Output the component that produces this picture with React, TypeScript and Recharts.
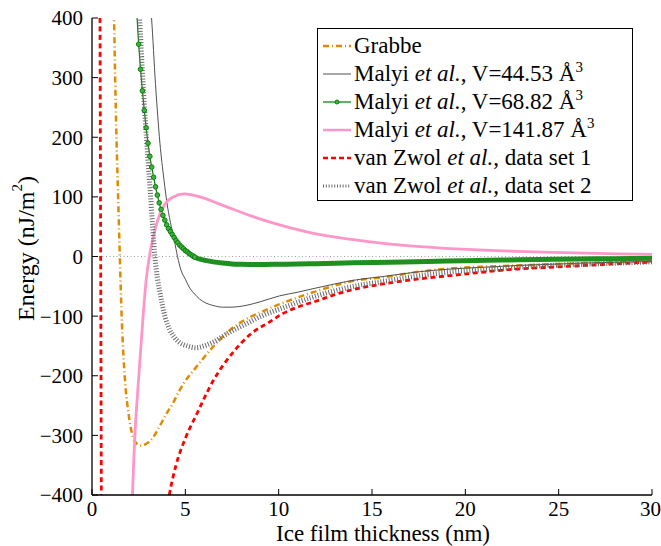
import React from 'react';
import { LineChart, Line, XAxis, YAxis, ReferenceLine, Legend, Label } from 'recharts';

// ---- data ----
const xTicks = [0, 5, 10, 15, 20, 25, 30];
const yTicks = [-400, -300, -200, -100, 0, 100, 200, 300, 400];

const grabbeX = [1.05, 1.18, 1.24, 1.31, 1.4, 1.49, 1.6, 1.7, 1.8, 1.95, 2.2, 2.4, 2.62, 2.85, 3.06, 3.3, 3.6, 4.0, 4.32, 4.68, 4.95, 5.57, 6.47, 7.37, 8.26, 9.0, 10.05, 11.84, 14.18, 15.6, 17.4, 19.2, 21, 22.8, 24.6, 26.4, 28.2, 30];
const grabbeY = [520, 400, 300, 200, 100, 0, -110, -175, -220, -262, -303, -314, -317, -315, -311, -302, -286, -263, -247, -225, -211, -186, -152, -124, -105, -94, -80, -60, -40, -35, -26, -20, -17, -15, -13, -11, -9.5, -8];

const malyi44X = [3.0, 3.19, 3.4, 3.64, 3.85, 4.05, 4.25, 4.41, 4.58, 4.77, 5.0, 5.2, 5.5, 5.75, 6.1, 6.47, 7.0, 7.4, 8.26, 9.0, 10.05, 11.0, 11.84, 13.0, 14.18, 15.6, 17.4, 19.2, 21, 22.8, 24.6, 26.4, 28.2, 30];
const malyi44Y = [470, 400, 290, 190, 130, 83, 50, 27, 0, -23, -38, -51, -63, -71, -78, -82, -85, -85, -82, -76, -66, -60, -54, -46, -39, -33.6, -26, -21, -18, -15, -13, -11, -9.5, -8.4];

const malyi68X = [2.4, 2.5, 2.6, 2.7, 2.8, 2.9, 3.0, 3.1, 3.2, 3.3, 3.4, 3.5, 3.6, 3.7, 3.8, 3.9, 4.0, 4.1, 4.2, 4.3, 4.4, 4.5, 4.6, 4.7, 4.8, 4.9, 5.0, 5.1, 5.2, 5.3, 5.4, 5.5];
const malyi68Y = [408, 356, 314, 278, 245, 216, 190, 168, 150, 133, 117, 103, 90, 79, 69, 61, 53, 47, 42, 37, 32, 27, 23, 19, 16, 13, 10, 8, 5, 3, 1, -1];
const malyi68TailX = [5.4, 5.5, 6, 6.5, 7, 7.5, 8, 9, 10, 11, 12, 14, 16, 18, 20, 22, 24, 26, 28, 30];
const malyi68TailY = [1, -1, -6, -9, -11, -12.5, -13, -13.5, -13, -12.5, -12, -10.5, -9.5, -8.5, -7, -6, -5, -4.3, -3.6, -3];

const malyi141X = [2.1, 2.17, 2.3, 2.49, 2.6, 2.75, 2.9, 3.1, 3.24, 3.51, 3.87, 4.32, 4.95, 5.84, 6.74, 7.63, 8.44, 10, 12, 13.8, 15.6, 17.4, 19.2, 21, 22.8, 24.6, 26.4, 28.2, 30];
const malyi141Y = [-480, -400, -300, -208, -160, -95, -40, 5, 27, 60, 86, 99.5, 105, 99.5, 89, 78.5, 69, 53.5, 38, 29, 22, 17, 13.3, 10.6, 8.5, 6.9, 5.6, 4.5, 3.6];

const zwol1X = [0.42, 0.465, 0.51, 1.0, 2.0, 3.0, 3.8, 4.14, 4.5, 5.0, 5.6, 6.5, 7.5, 8.5, 9.5, 10.2, 11, 12, 13, 14.2, 15.6, 17.4, 19.2, 21, 22.8, 24.6, 26.4, 28.2, 30];
const zwol1Y = [500, 0, -500, -2500, -1400, -750, -470, -400, -350, -305, -265, -208, -163, -130, -110, -96, -85, -75, -64, -54, -46, -38, -32, -26, -21, -18, -15, -12, -9.5];

const zwol2X = [2.5, 2.55, 2.7, 2.85, 3.0, 3.12, 3.25, 3.37, 3.5, 3.65, 3.92, 4.15, 4.4, 4.68, 5.1, 5.57, 6.0, 6.47, 7.37, 8.26, 9.0, 10.05, 11.84, 14.18, 15.6, 17.4, 19.2, 21, 22.8, 24.6, 26.4, 28.2, 30];
const zwol2Y = [430, 400, 310, 230, 160, 110, 50, 0, -35, -62, -102, -122, -135, -144, -150, -153, -150, -144, -127, -113, -101, -88, -68, -49, -42, -33, -26, -22, -18, -15, -13, -11, -9];

const toPoints = (xs: number[], ys: number[]) => xs.map((x, i) => ({ x, y: ys[i] }));

const grabbe = toPoints(grabbeX, grabbeY);
const malyi44 = toPoints(malyi44X, malyi44Y);
const malyi68 = toPoints(malyi68X, malyi68Y);
const malyi68Tail = toPoints(malyi68TailX, malyi68TailY);
const malyi141 = toPoints(malyi141X, malyi141Y);
const zwol1 = toPoints(zwol1X, zwol1Y);
const zwol2 = toPoints(zwol2X, zwol2Y);

const FONT = "'Liberation Serif', 'Times New Roman', Times, 'DejaVu Serif', 'Noto Serif', FreeSerif, serif";
const ORANGE = '#E08A00';
const GRAY = '#505050';
const GREEN = '#0A7D0A';
const PINK = '#FF96C8';
const RED = '#FF0000';
const HATCH = '#6a6a6a';

const fmtY = (v: number) => (v < 0 ? '\u2212' + Math.abs(v) : String(v));

const Sup = ({ children }: { children: React.ReactNode }) => (
  <span style={{ fontSize: 15, position: 'relative', top: -9 }}>{children}</span>
);

const sample = (kind: string) => {
  switch (kind) {
    case 'grabbe':
      return <line x1={2} y1={10} x2={30} y2={10} stroke={ORANGE} strokeWidth={2.5} strokeDasharray="6 3 1 3" />;
    case 'm44':
      return <line x1={2} y1={10} x2={30} y2={10} stroke={GRAY} strokeWidth={1} />;
    case 'm68':
      return (
        <g>
          <line x1={2} y1={10} x2={30} y2={10} stroke="#2a9a2a" strokeWidth={1.5} />
          <circle cx={16} cy={10} r={2} fill="#3cb43c" stroke={GREEN} strokeWidth={1} />
        </g>
      );
    case 'm141':
      return <line x1={2} y1={10} x2={30} y2={10} stroke={PINK} strokeWidth={2.5} />;
    case 'z1':
      return <line x1={2} y1={10} x2={30} y2={10} stroke={RED} strokeWidth={2.5} strokeDasharray="5 3" />;
    default:
      return <line x1={2} y1={10} x2={30} y2={10} stroke={HATCH} strokeWidth={3} strokeDasharray="1 1.8" />;
  }
};

const legendRows: { kind: string; label: React.ReactNode }[] = [
  { kind: 'grabbe', label: <>Grabbe</> },
  { kind: 'm44', label: <>Malyi <i>et al.</i>, V=44.53 Å<Sup>3</Sup></> },
  { kind: 'm68', label: <>Malyi <i>et al.</i>, V=68.82 Å<Sup>3</Sup></> },
  { kind: 'm141', label: <>Malyi <i>et al.</i>, V=141.87 Å<Sup>3</Sup></> },
  { kind: 'z1', label: <>van Zwol <i>et al.</i>, data set 1</> },
  { kind: 'z2', label: <>van Zwol <i>et al.</i>, data set 2</> },
];

const renderLegend = () => (
  <div
    style={{
      boxSizing: 'border-box',
      width: 316,
      height: 173,
      border: '1.3px solid #000',
      background: '#fff',
      fontFamily: FONT,
      fontSize: 23,
      color: '#000',
      padding: '3px 0 0 3px',
    }}
  >
    {legendRows.map((r) => (
      <div key={r.kind} style={{ display: 'flex', alignItems: 'center', height: 28, whiteSpace: 'nowrap' }}>
        <svg width={33} height={20} style={{ flex: 'none' }}>{sample(r.kind)}</svg>
        <span>{r.label}</span>
      </div>
    ))}
  </div>
);

export default function App() {
  const tickStyle = { fill: '#000', fontSize: 21, fontFamily: FONT };
  return (
    <div style={{ position: 'absolute', left: 0, top: 0, width: 661, height: 546, background: '#fff', fontFamily: FONT }}>
      <LineChart width={661} height={546} margin={{ top: 18, right: 9, bottom: 0, left: 0 }} style={{ fontFamily: FONT }}>
        <XAxis
          xAxisId="b"
          type="number"
          dataKey="x"
          domain={[0, 30]}
          ticks={xTicks}
          allowDataOverflow
          height={51}
          tickSize={-6}
          tickMargin={12}
          tick={tickStyle}
          axisLine={{ stroke: '#000', strokeWidth: 1.3 }}
          tickLine={{ stroke: '#000' }}
        >
          <Label
            value="Ice film thickness (nm)"
            position="insideBottom"
            offset={5}
            dx={11}
            style={{ fill: '#000', fontSize: 23, fontFamily: FONT }}
          />
        </XAxis>
        <XAxis
          xAxisId="t"
          orientation="top"
          type="number"
          dataKey="x"
          domain={[0, 30]}
          ticks={xTicks}
          allowDataOverflow
          height={0}
          tickSize={-6}
          tick={false}
          axisLine={{ stroke: '#000', strokeWidth: 1.3 }}
          tickLine={{ stroke: '#000' }}
        />
        <YAxis
          yAxisId="l"
          type="number"
          domain={[-400, 400]}
          ticks={yTicks}
          allowDataOverflow
          width={92}
          tickSize={-6}
          tickMargin={15}
          tickFormatter={fmtY}
          tick={tickStyle}
          axisLine={{ stroke: '#000', strokeWidth: 1.3 }}
          tickLine={{ stroke: '#000' }}
        >
          <Label
            value="Energy (nJ/m²)"
            content={(props: any) => {
              const vb = props.viewBox || {};
              const cx = 26;
              const cy = vb.y + vb.height / 2 - 8;
              return (
                <text
                  x={cx}
                  y={cy}
                  transform={`rotate(-90 ${cx} ${cy})`}
                  textAnchor="middle"
                  dominantBaseline="central"
                  style={{ fill: '#000', fontSize: 24, fontFamily: FONT }}
                >
                  Energy (nJ/m
                  <tspan dy={-9} fontSize={15}>2</tspan>
                  <tspan dy={9}>)</tspan>
                </text>
              );
            }}
          />
        </YAxis>
        <YAxis
          yAxisId="r"
          orientation="right"
          type="number"
          domain={[-400, 400]}
          ticks={yTicks}
          allowDataOverflow
          width={0}
          tickSize={-6}
          tick={false}
          axisLine={{ stroke: '#000', strokeWidth: 1.3 }}
          tickLine={{ stroke: '#000' }}
        />
        <ReferenceLine xAxisId="b" yAxisId="l" y={0} stroke="#a0a0a0" strokeDasharray="1 2.5" strokeWidth={1} />
        <Line xAxisId="b" yAxisId="l" data={grabbe} dataKey="y" type="monotone" stroke={ORANGE} strokeWidth={2.5} strokeDasharray="6 3 1 3" dot={false} isAnimationActive={false} />
        <Line xAxisId="b" yAxisId="l" data={malyi44} dataKey="y" type="monotone" stroke={GRAY} strokeWidth={1} dot={false} isAnimationActive={false} />
        <Line xAxisId="b" yAxisId="l" data={malyi68Tail} dataKey="y" type="monotone" stroke="#1f8f1f" strokeWidth={5} dot={false} isAnimationActive={false} />
        <Line xAxisId="b" yAxisId="l" data={malyi68} dataKey="y" type="monotone" stroke={GREEN} strokeWidth={1.2} dot={{ r: 2.3, fill: '#3cb43c', stroke: GREEN, strokeWidth: 1 }} isAnimationActive={false} />
        <Line xAxisId="b" yAxisId="l" data={malyi141} dataKey="y" type="monotone" stroke={PINK} strokeWidth={2.8} dot={false} isAnimationActive={false} />
        <Line xAxisId="b" yAxisId="l" data={zwol1} dataKey="y" type="monotone" stroke={RED} strokeWidth={2.8} strokeDasharray="5 3.5" dot={false} isAnimationActive={false} />
        <Line xAxisId="b" yAxisId="l" data={zwol2} dataKey="y" type="monotone" stroke={HATCH} strokeWidth={5} strokeDasharray="1 1.8" dot={false} isAnimationActive={false} />
        <Legend
          layout="horizontal"
          verticalAlign="middle"
          align="center"
          content={renderLegend}
          wrapperStyle={{ left: 317, top: 28, width: 316, height: 173 }}
        />
      </LineChart>
    </div>
  );
}
